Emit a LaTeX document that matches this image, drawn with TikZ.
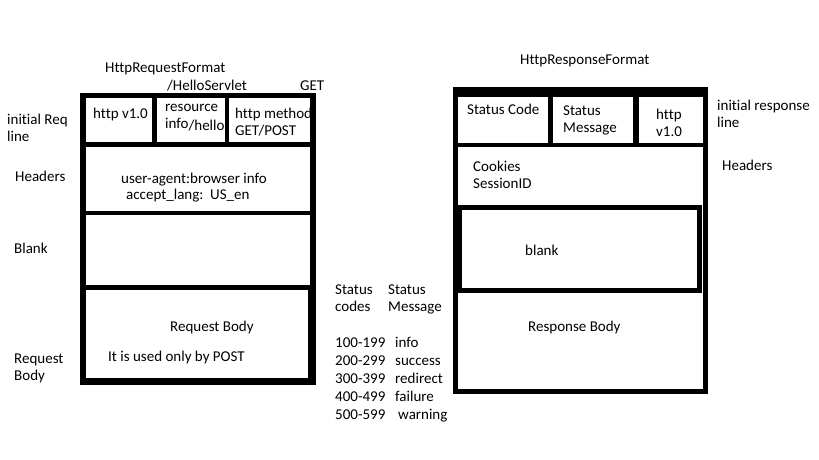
\documentclass[tikz,border=0pt]{standalone}
\usepackage{fontspec}
\setmainfont{Carlito}[Ligatures=NoCommon]
\usetikzlibrary{fit}

\begin{document}
\begin{tikzpicture}
  [x=1pt,y=-1pt,
   frame/.style={fill=black,inner sep=0pt},
   cell/.style={fill=white,inner sep=0pt},
   txt/.style={inner sep=0pt,anchor=base west,align=left,
     font=\fontsize{15}{17}\selectfont}]
  \useasboundingbox[fill=white] (0,0) rectangle (819,460);

  % request format
  \node[frame, fit={(80,93) (316,385)}] (reqFrame) {};
  \node[cell, fit={(86,98) (152,142)}] (reqVer) {};
  \node[cell, fit={(157,98) (225,142)}] (reqRes) {};
  \node[cell, fit={(229,98) (310,142)}] (reqMeth) {};
  \node[cell, fit={(86,147) (310,211)}] (reqHead) {};
  \node[cell, fit={(86,215) (310,285)}] (reqBlank) {};
  \node[cell, fit={(86,290) (308,378)}] (reqBody) {};

  \node[txt] (reqTitle) at (105,72) {HttpRequestFormat};
  \node[txt] (reqUrl) at (167,90) {/HelloServlet};
  \node[txt] (reqGet) at (300,90) {GET};
  \node[txt] (reqVerTxt) at (93,118) {http v1.0};
  \begin{scope}
    \clip (reqRes.north west) rectangle (reqRes.south east);
    \node[txt] (reqResTxt) at (165,128) {resource\\info\raisebox{-2pt}{/hello}};
  \end{scope}
  \begin{scope}
    \clip (reqMeth.north west) rectangle (reqMeth.south east);
    \node[txt] (reqMethTxt) at (235,135) {http method\\GET/POST};
  \end{scope}
  \node[txt] (reqHeadTxt) at (121,183) {user-agent:browser info};
  \node[txt] (reqLangTxt) at (126,199) {accept\_lang:\ \ US\_en};
  \node[txt] (reqBodyTxt) at (170,331) {Request Body};
  \node[txt] (reqPostTxt) at (108,361) {It is used only by POST};

  \node[txt] (lblInit) at (7,141) {initial Req\\line};
  \node[txt] (lblHead) at (15,181) {Headers};
  \node[txt] (lblBlank) at (14,253) {Blank};
  \node[txt] (lblBody) at (14,380) {Request\\Body};

  % status codes
  \node[txt] (stCodes) at (335,311) {Status\\codes};
  \node[txt] (stMsgs) at (388,311) {Status\\Message};
  \foreach \code/\msg/\mx [count=\i] in
    {100-199/info/395, 200-299/success/395, 300-399/redirect/395,
     400-499/failure/395, 500-599/warning/398}
  {
    \node[txt] (code\i) at (335,329+18*\i) {\code};
    \node[txt] (msg\i) at (\mx,329+18*\i) {\msg};
  }

  % response format
  \node[frame, fit={(453,87) (708,394)}] (resFrame) {};
  \node[cell, fit={(458,97) (548,143)}] (resCode) {};
  \node[cell, fit={(553,97) (633,143)}] (resMsg) {};
  \node[cell, fit={(639,97) (703,143)}] (resVer) {};
  \node[cell, fit={(458,147) (703,205)}] (resHead) {};
  \node[cell, fit={(458,205) (703,389)}] (resBody) {};
  \node[frame, fit={(458,205) (702,293)}] (resBlankBox) {};
  \node[cell, fit={(462,210) (697,288)}] (resBlank) {};

  \node[txt] (resTitle) at (520,64) {HttpResponseFormat};
  \node[txt] (resCodeTxt) at (467,114) {Status Code};
  \node[txt] (resMsgTxt) at (563,132) {Status\\Message};
  \node[txt] (resVerTxt) at (656,136) {http\\v1.0};
  \node[txt] (resHeadTxt) at (473,188) {Cookies\\SessionID};
  \node[txt] (resBlankTxt) at (525,255) {blank};
  \node[txt] (resBodyTxt) at (528,331) {Response Body};

  \node[txt] (lblResInit) at (717,127) {initial response\\line};
  \node[txt] (lblResHead) at (722,170) {Headers};
\end{tikzpicture}
\end{document}
